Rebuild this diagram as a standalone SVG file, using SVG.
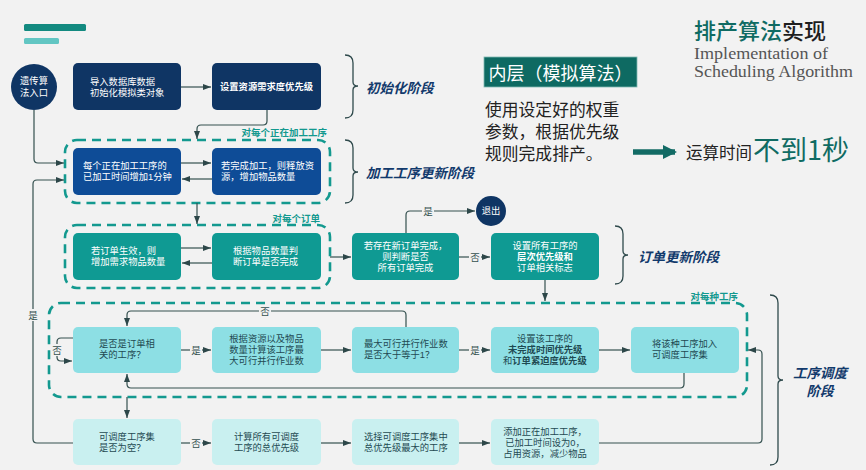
<svg xmlns="http://www.w3.org/2000/svg" width="866" height="470" viewBox="0 0 866 470">
<defs>
<style>
.t{font-family:"Liberation Sans","Noto Sans CJK SC",sans-serif;font-size:9.3px;dominant-baseline:central}
.w{fill:#ffffff}
.d{fill:#1f4a52}
.b{font-weight:bold}
.m{text-anchor:middle}
.c{fill:none;stroke:#34504f;stroke-width:1.2}
.a{marker-end:url(#ah)}
.dash{fill:none;stroke:#13998f;stroke-width:2.6;stroke-dasharray:9 6}
.br{fill:none;stroke:#2f4a4c;stroke-width:1.3}
.lbl{font-family:"Liberation Sans","Noto Sans CJK SC",sans-serif;font-size:9.5px;fill:#34504f;text-anchor:middle;dominant-baseline:central}
.dl{font-family:"Liberation Sans","Noto Sans CJK SC",sans-serif;font-size:9.5px;fill:#13998f;font-weight:bold;text-anchor:end;dominant-baseline:central}
.stage{font-family:"Liberation Sans","Noto Sans CJK SC",sans-serif;font-size:13.5px;font-weight:bold;font-style:italic;fill:#123a6c;dominant-baseline:central}
.navy{fill:#0f3564}
.blue{fill:#0e4c97}
.teal{fill:#0f9a93}
.cy{fill:#8ddfe4}
.lc{fill:#c9f0f0}
</style>
<marker id="ah" markerWidth="8" markerHeight="6" refX="8" refY="3" orient="auto" markerUnits="userSpaceOnUse">
<path d="M0,0 L8,3 L0,6 z" fill="#2d4749"/>
</marker>
<marker id="big" markerWidth="14" markerHeight="14" refX="12" refY="7" orient="auto" markerUnits="userSpaceOnUse">
<path d="M0,0 L14,7 L0,14 z" fill="#136b65"/>
</marker>
</defs>
<rect x="0" y="0" width="866" height="470" fill="#f2f2f2"/>

<rect x="24" y="24" width="62" height="7" rx="1.5" fill="#138a80"/>
<rect x="24" y="38" width="35" height="6" rx="1.5" fill="#62c6c3"/>

<g id="title">
<text x="694" y="39" font-family="'Noto Sans CJK SC',sans-serif" font-size="22" font-weight="500"><tspan fill="#0f6b63">排产算法</tspan><tspan fill="#1e1e1e">实现</tspan></text>
<text font-family="'Liberation Serif',serif" font-size="17" fill="#555"><tspan x="694" y="59" textLength="134" lengthAdjust="spacingAndGlyphs">Implementation of</tspan><tspan x="694" y="77" textLength="159" lengthAdjust="spacingAndGlyphs">Scheduling Algorithm</tspan></text>
</g>

<g id="inner">
<rect x="484" y="57" width="153" height="30" fill="#0e6a62" stroke="#7fb9b3" stroke-width="0.8"/>
<text x="560.5" y="72" font-family="'Noto Sans CJK SC',sans-serif" font-size="18" fill="#fff" text-anchor="middle" dominant-baseline="central">内层（模拟算法）</text>
</g>
<g id="desc">
<text font-family="'Liberation Sans','Noto Sans CJK SC',sans-serif" font-size="16.8" fill="#222"><tspan x="485" y="116">使用设定好的权重</tspan><tspan x="485" y="138">参数，根据优先级</tspan><tspan x="485" y="160">规则完成排产。</tspan></text>
</g>
<g id="runtime">
<line x1="633" y1="152" x2="675" y2="152" stroke="#136b65" stroke-width="5.5" marker-end="url(#big)"/>
<text x="686" y="159" font-family="'Noto Sans CJK SC',sans-serif" font-size="16.5" fill="#222">运算时间</text>
<text x="753" y="160" font-family="'Noto Sans CJK SC',sans-serif" font-size="27" fill="#0f6b63">不到1秒</text>
</g>

<g id="loops">
<rect class="dash" x="65" y="140" width="265" height="63" rx="12"/>
<text class="dl" x="327" y="132">对每个正在加工工序</text>
<rect class="dash" x="65" y="225" width="265" height="63" rx="12"/>
<text class="dl" x="320" y="218">对每个订单</text>
<rect class="dash" x="49" y="303" width="698" height="94" rx="12"/>
<text class="dl" x="738" y="296">对每种工序</text>
</g>

<g id="connectors">
<path class="c a" d="M181,87 H211"/>
<path class="c a" d="M267,110 V121 Q267,125 263,125 H201 Q197,125 197,129 V139"/>
<path class="c a" d="M34,110 V159 Q34,163 38,163 H64"/>
<path class="c a" d="M181,163 H211"/>
<path class="c a" d="M212,179 H182"/>
<path class="c a" d="M197,203 V224"/>
<path class="c a" d="M181,248 H211"/>
<path class="c a" d="M212,263 H182"/>
<path class="c a" d="M330,257 H351"/>
<path class="c a" d="M459,257 H490"/>
<path class="c a" d="M406,233 V215 Q406,211 410,211 H475"/>
<path class="c a" d="M545,280 V301"/>
<path class="c a" d="M181,350 H211"/>
<path class="c a" d="M321,350 H351"/>
<path class="c a" d="M459,350 H490"/>
<path class="c a" d="M599,350 H630"/>
<path class="c a" d="M406,327 V315 Q406,311 402,311 H131 Q127,311 127,315 V326"/>
<path class="c a" d="M684,373 V384 Q684,388 680,388 H131 Q127,388 127,384 V374"/>
<path class="c a" d="M73,338 H61 Q57,338 57,342 V357 Q57,361 61,361 H72"/>
<path class="c a" d="M127,397 V418"/>
<path class="c a" d="M181,443 H211"/>
<path class="c a" d="M321,443 H351"/>
<path class="c a" d="M459,443 H490"/>
<path class="c a" d="M599,443 H758 Q762,443 762,439 V354 Q762,350 758,350 H748"/>
<path class="c a" d="M73,443 H37 Q33,443 33,439 V184 Q33,180 37,180 H64"/>
<rect x="469" y="251" width="12" height="12" fill="#f2f2f2"/><text class="lbl" x="475" y="257">否</text>
<rect x="422" y="205" width="12" height="12" fill="#f2f2f2"/><text class="lbl" x="428" y="211">是</text>
<rect x="190" y="344" width="12" height="12" fill="#f2f2f2"/><text class="lbl" x="196" y="350">是</text>
<rect x="469" y="344" width="12" height="12" fill="#f2f2f2"/><text class="lbl" x="475" y="350">是</text>
<rect x="259" y="305" width="12" height="12" fill="#f2f2f2"/><text class="lbl" x="265" y="311">否</text>
<rect x="51" y="344" width="12" height="12" fill="#f2f2f2"/><text class="lbl" x="57" y="350">否</text>
<rect x="190" y="437" width="12" height="12" fill="#f2f2f2"/><text class="lbl" x="196" y="443">否</text>
<rect x="27" y="309" width="12" height="12" fill="#f2f2f2"/><text class="lbl" x="33" y="315">是</text>
</g>

<g id="brackets">
<path class="br" d="M345,55 Q353,55 353,63 V82 Q353,86 358,86 Q353,86 353,90 V110 Q353,118 345,118"/>
<path class="br" d="M345,140 Q353,140 353,148 V168 Q353,172 358,172 Q353,172 353,176 V195 Q353,203 345,203"/>
<path class="br" d="M615,226 Q623,226 623,234 V251 Q623,255 628,255 Q623,255 623,259 V276 Q623,284 615,284"/>
<path class="br" d="M770,295 Q778,295 778,303 V376 Q778,380 783,380 Q778,380 778,384 V457 Q778,465 770,465"/>
<text class="stage" x="366" y="88">初始化阶段</text>
<text class="stage" x="366" y="173">加工工序更新阶段</text>
<text class="stage" x="638" y="257">订单更新阶段</text>
<text class="stage" text-anchor="middle"><tspan x="820" y="373">工序调度</tspan><tspan x="820" y="391">阶段</tspan></text>
</g>

<g id="entry"><circle class="navy" cx="34" cy="87" r="23"/>
<text class="t w m" font-size="10.5"><tspan x="34" y="81">遗传算</tspan><tspan x="34" y="93">法入口</tspan></text></g>
<g id="exit"><circle class="navy" cx="491" cy="211" r="15"/><text class="t w m" x="491" y="211">退出</text></g>

<g id="n1"><rect class="navy" x="73" y="63" width="108" height="47" rx="5"/>
<text class="t w"><tspan x="90" y="82">导入数据库数据</tspan><tspan x="90" y="93">初始化模拟类对象</tspan></text></g>
<g id="n2"><rect class="navy" x="212" y="63" width="109" height="47" rx="5"/>
<text class="t w m b" x="266.5" y="87">设置资源需求度优先级</text></g>

<g id="n3"><rect class="blue" x="73" y="148" width="108" height="47" rx="5"/>
<text class="t w"><tspan x="83" y="166">每个正在加工工序的</tspan><tspan x="83" y="177">已加工时间增加1分钟</tspan></text></g>
<g id="n4"><rect class="blue" x="212" y="148" width="109" height="47" rx="5"/>
<text class="t w"><tspan x="221" y="166">若完成加工，则释放资</tspan><tspan x="221" y="177">源，增加物品数量</tspan></text></g>

<g id="n5"><rect class="teal" x="73" y="233" width="108" height="47" rx="5"/>
<text class="t w"><tspan x="91" y="251">若订单生效，则</tspan><tspan x="91" y="262">增加需求物品数量</tspan></text></g>
<g id="n6"><rect class="teal" x="212" y="233" width="109" height="47" rx="5"/>
<text class="t w"><tspan x="233" y="251">根据物品数量判</tspan><tspan x="233" y="262">断订单是否完成</tspan></text></g>
<g id="n7"><rect class="teal" x="352" y="233" width="107" height="47" rx="5"/>
<text class="t w m"><tspan x="405.5" y="246">若存在新订单完成，</tspan><tspan x="405.5" y="257">则判断是否</tspan><tspan x="405.5" y="268">所有订单完成</tspan></text></g>
<g id="n8"><rect class="teal" x="491" y="233" width="108" height="47" rx="5"/>
<text class="t w m"><tspan x="545" y="246">设置所有工序的</tspan><tspan x="545" y="257" class="b">层次优先级和</tspan><tspan x="545" y="268">订单相关标志</tspan></text></g>

<g id="n9"><rect class="cy" x="73" y="327" width="108" height="46" rx="5"/>
<text class="t d"><tspan x="99" y="344">是否是订单相</tspan><tspan x="99" y="355">关的工序？</tspan></text></g>
<g id="n10"><rect class="cy" x="212" y="327" width="109" height="46" rx="5"/>
<text class="t d m"><tspan x="266.5" y="339">根据资源以及物品</tspan><tspan x="266.5" y="350">数量计算该工序最</tspan><tspan x="266.5" y="361">大可行并行作业数</tspan></text></g>
<g id="n11"><rect class="cy" x="352" y="327" width="107" height="46" rx="5"/>
<text class="t d"><tspan x="364" y="344">最大可行并行作业数</tspan><tspan x="364" y="355">是否大于等于1？</tspan></text></g>
<g id="n12"><rect class="cy" x="491" y="327" width="108" height="46" rx="5"/>
<text class="t d"><tspan x="517" y="339">设置该工序的</tspan><tspan x="508" y="350" class="b">未完成时间优先级</tspan><tspan x="503" y="361">和</tspan><tspan class="b">订单紧迫度优先级</tspan></text></g>
<g id="n13"><rect class="cy" x="631" y="327" width="108" height="46" rx="5"/>
<text class="t d"><tspan x="652" y="344">将该种工序加入</tspan><tspan x="652" y="355">可调度工序集</tspan></text></g>

<g id="n14"><rect class="lc" x="73" y="419" width="108" height="46" rx="5"/>
<text class="t d"><tspan x="99" y="437">可调度工序集</tspan><tspan x="99" y="448">是否为空？</tspan></text></g>
<g id="n15"><rect class="lc" x="212" y="419" width="109" height="46" rx="5"/>
<text class="t d m"><tspan x="266.5" y="437">计算所有可调度</tspan><tspan x="266.5" y="448">工序的总优先级</tspan></text></g>
<g id="n16"><rect class="lc" x="352" y="419" width="107" height="46" rx="5"/>
<text class="t d"><tspan x="364" y="437">选择可调度工序集中</tspan><tspan x="364" y="448">总优先级最大的工序</tspan></text></g>
<g id="n17"><rect class="lc" x="491" y="419" width="108" height="46" rx="5"/>
<text class="t d m"><tspan x="545" y="432">添加正在加工工序，</tspan><tspan x="545" y="443">已加工时间设为0，</tspan><tspan x="545" y="454">占用资源，减少物品</tspan></text></g>
</svg>
